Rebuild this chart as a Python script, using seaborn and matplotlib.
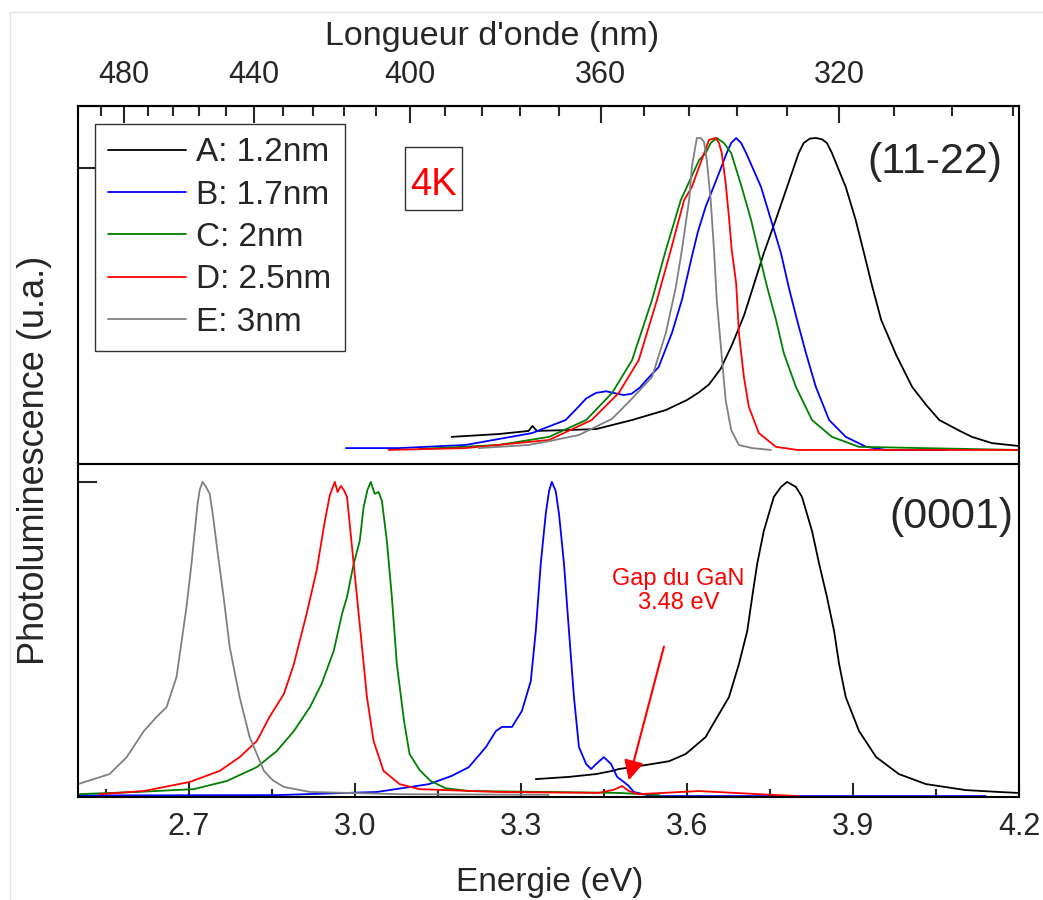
import numpy as np
import pandas as pd
import matplotlib
matplotlib.use("Agg")
import matplotlib.pyplot as plt
from matplotlib.lines import Line2D
from matplotlib.patches import Rectangle
from matplotlib.ticker import FixedLocator
import seaborn as sns

# ---------------------------------------------------------------- data
samples = ["A: 1.2nm", "B: 1.7nm", "C: 2nm", "D: 2.5nm", "E: 3nm"]
colors = ["#000000", "#0000ff", "#008000", "#ff0000", "#808080"]

# (11-22) semipolar wells: photon energy (eV) / normalised PL intensity
semi_a_e = [3.175, 3.26, 3.314, 3.321, 3.329, 3.387, 3.436, 3.501, 3.562, 3.600,
            3.622, 3.640, 3.661, 3.681, 3.703, 3.721, 3.739, 3.761, 3.781, 3.802,
            3.811, 3.822, 3.833, 3.844, 3.853, 3.862, 3.887, 3.905, 3.920, 3.934,
            3.951, 3.978, 4.007, 4.032, 4.056, 4.092, 4.115, 4.151, 4.198]
semi_a_i = [0.042, 0.051, 0.061, 0.077, 0.061, 0.064, 0.067, 0.096, 0.128, 0.16,
            0.185, 0.21, 0.26, 0.335, 0.43, 0.53, 0.631, 0.74, 0.843, 0.952,
            0.984, 0.998, 1.0, 0.996, 0.984, 0.952, 0.843, 0.737, 0.631, 0.53,
            0.417, 0.305, 0.202, 0.145, 0.096, 0.062, 0.042, 0.022, 0.013]

semi_b_e = [2.984, 3.08, 3.2, 3.32, 3.381, 3.405, 3.418, 3.436, 3.454, 3.470,
            3.486, 3.500, 3.515, 3.530, 3.549, 3.573, 3.591, 3.609, 3.620, 3.634,
            3.652, 3.672, 3.680, 3.689, 3.698, 3.707, 3.734, 3.752, 3.770, 3.784,
            3.799, 3.815, 3.833, 3.857, 3.887, 3.924, 3.96, 4.07]
semi_b_i = [0.006, 0.006, 0.016, 0.054, 0.096, 0.14, 0.165, 0.183, 0.188, 0.182,
            0.176, 0.18, 0.2, 0.23, 0.266, 0.375, 0.481, 0.62, 0.70, 0.78,
            0.86, 0.952, 0.984, 1.0, 0.984, 0.952, 0.843, 0.737, 0.631, 0.522,
            0.417, 0.311, 0.202, 0.096, 0.042, 0.01, 0.0, 0.0]

semi_c_e = [3.116, 3.26, 3.351, 3.418, 3.465, 3.501, 3.537, 3.562, 3.589, 3.622,
            3.634, 3.643, 3.654, 3.667, 3.680, 3.699, 3.716, 3.730, 3.745, 3.761,
            3.775, 3.797, 3.826, 3.862, 3.911, 4.198]
semi_c_i = [0.003, 0.016, 0.042, 0.096, 0.183, 0.288, 0.481, 0.641, 0.801, 0.929,
            0.952, 0.984, 1.0, 0.984, 0.952, 0.843, 0.737, 0.631, 0.522, 0.417,
            0.311, 0.202, 0.096, 0.042, 0.01, 0.0]

semi_d_e = [3.061, 3.2, 3.351, 3.428, 3.477, 3.513, 3.546, 3.571, 3.595, 3.609,
            3.622, 3.640, 3.652, 3.658, 3.663, 3.670, 3.676, 3.681, 3.689, 3.694,
            3.703, 3.712, 3.730, 3.761, 3.80, 4.198]
semi_d_i = [0.0, 0.006, 0.032, 0.096, 0.183, 0.288, 0.481, 0.641, 0.801, 0.843,
            0.907, 0.994, 1.0, 0.984, 0.952, 0.856, 0.747, 0.641, 0.535, 0.375,
            0.234, 0.138, 0.054, 0.01, 0.0, 0.0]

semi_e_e = [3.224, 3.314, 3.356, 3.405, 3.465, 3.501, 3.537, 3.562, 3.580, 3.591,
            3.604, 3.609, 3.618, 3.625, 3.631, 3.636, 3.643, 3.649, 3.654, 3.662,
            3.670, 3.680, 3.694, 3.718, 3.752]
semi_e_i = [0.006, 0.016, 0.03, 0.048, 0.1, 0.165, 0.234, 0.375, 0.522, 0.641,
            0.801, 0.907, 1.0, 1.0, 0.987, 0.929, 0.801, 0.641, 0.481, 0.32,
            0.16, 0.064, 0.016, 0.006, 0.0]

# (0001) polar wells
polar_a_e = [3.327, 3.387, 3.436, 3.465, 3.477, 3.501, 3.537, 3.568, 3.598, 3.634,
             3.640, 3.658, 3.676, 3.694, 3.709, 3.718, 3.727, 3.739, 3.757, 3.770,
             3.781, 3.797, 3.808, 3.826, 3.839, 3.853, 3.866, 3.875, 3.887, 3.911,
             3.942, 3.983, 4.032, 4.104, 4.164, 4.198]
polar_a_i = [0.054, 0.061, 0.07, 0.08, 0.086, 0.092, 0.102, 0.111, 0.134, 0.188,
             0.207, 0.261, 0.315, 0.42, 0.525, 0.634, 0.739, 0.844, 0.952, 0.984,
             1.0, 0.984, 0.952, 0.844, 0.739, 0.634, 0.525, 0.42, 0.315, 0.207,
             0.124, 0.07, 0.038, 0.019, 0.013, 0.01]

polar_b_e = [2.5, 2.859, 3.04, 3.134, 3.175, 3.206, 3.237, 3.255, 3.266, 3.284,
             3.302, 3.318, 3.327, 3.336, 3.345, 3.351, 3.356, 3.363, 3.369, 3.378,
             3.387, 3.396, 3.405, 3.418, 3.427, 3.436, 3.45, 3.463, 3.474, 3.486,
             3.495, 3.504, 3.537, 4.14]
polar_b_i = [0.002, 0.003, 0.013, 0.038, 0.064, 0.092, 0.156, 0.207, 0.22, 0.22,
             0.271, 0.366, 0.525, 0.739, 0.898, 0.971, 1.0, 0.971, 0.898, 0.739,
             0.525, 0.315, 0.156, 0.102, 0.086, 0.102, 0.124, 0.102, 0.061, 0.045,
             0.032, 0.013, 0.0, 0.0]

polar_c_e = [2.5, 2.606, 2.709, 2.769, 2.823, 2.859, 2.890, 2.919, 2.940, 2.962,
             2.977, 2.986, 2.998, 3.009, 3.016, 3.023, 3.029, 3.036, 3.043, 3.049,
             3.058, 3.067, 3.076, 3.089, 3.099, 3.117, 3.137, 3.164, 3.206, 3.35,
             3.477, 3.55]
polar_c_i = [0.006, 0.013, 0.022, 0.048, 0.092, 0.143, 0.207, 0.283, 0.357, 0.462,
             0.58, 0.634, 0.739, 0.812, 0.92, 0.975, 1.0, 0.962, 0.968, 0.94,
             0.812, 0.634, 0.42, 0.239, 0.134, 0.083, 0.048, 0.025, 0.016, 0.013,
             0.01, 0.003]

polar_d_e = [2.539, 2.619, 2.702, 2.756, 2.792, 2.823, 2.846, 2.872, 2.890, 2.913,
             2.931, 2.946, 2.955, 2.964, 2.969, 2.975, 2.980, 2.986, 2.995, 3.004,
             3.013, 3.022, 3.034, 3.052, 3.081, 3.117, 3.26, 3.44, 3.468, 3.483,
             3.495, 3.513, 3.622, 3.73, 3.80]
polar_d_i = [0.006, 0.016, 0.045, 0.08, 0.124, 0.175, 0.252, 0.325, 0.42, 0.58,
             0.717, 0.876, 0.958, 1.0, 0.968, 0.987, 0.975, 0.952, 0.793, 0.634,
             0.475, 0.315, 0.175, 0.08, 0.038, 0.022, 0.013, 0.01, 0.02, 0.032,
             0.016, 0.006, 0.016, 0.006, 0.0]

polar_e_e = [2.5, 2.557, 2.588, 2.619, 2.642, 2.660, 2.678, 2.696, 2.705, 2.711,
             2.716, 2.720, 2.725, 2.731, 2.738, 2.744, 2.751, 2.763, 2.774, 2.792,
             2.810, 2.836, 2.852, 2.872, 2.919, 3.08, 3.35]
polar_e_i = [0.038, 0.07, 0.124, 0.207, 0.252, 0.283, 0.379, 0.602, 0.739, 0.844,
             0.93, 0.975, 1.0, 0.985, 0.962, 0.89, 0.793, 0.634, 0.475, 0.315,
             0.188, 0.08, 0.05, 0.029, 0.013, 0.006, 0.004]

gap_gan_ev = 3.48
energy_ticks = [2.7, 3.0, 3.3, 3.6, 3.9, 4.2]
energy_minor = [2.55, 2.85, 3.15, 3.45, 3.75, 4.05]
wavelength_ticks = [480, 440, 400, 360, 320]
wavelength_minor = [296, 304, 312, 328, 336, 344, 352, 368, 376, 384, 392,
                    408, 416, 424, 432, 448, 456, 464, 472, 488, 496]


def long_frame(energies, intensities):
    parts = []
    for name, e, i in zip(samples, energies, intensities):
        parts.append(pd.DataFrame({"energy": e, "intensity": i, "sample": name}))
    return pd.concat(parts, ignore_index=True)


semi_df = long_frame([semi_a_e, semi_b_e, semi_c_e, semi_d_e, semi_e_e],
                     [semi_a_i, semi_b_i, semi_c_i, semi_d_i, semi_e_i])
polar_df = long_frame([polar_a_e, polar_b_e, polar_c_e, polar_d_e, polar_e_e],
                      [polar_a_i, polar_b_i, polar_c_i, polar_d_i, polar_e_i])

# ---------------------------------------------------------------- style
sns.set_theme(style="ticks")
plt.rcParams["font.family"] = ["Liberation Sans", "DejaVu Sans"]
plt.rcParams["axes.linewidth"] = 1.5
plt.rcParams["axes.edgecolor"] = "black"

W, H = 1043, 900
fig = plt.figure(figsize=(W / 100, H / 100), dpi=100)
x0, x1 = 78 / W, 1019 / W
ax_top = fig.add_axes([x0, 1 - 464 / H, x1 - x0, 358 / H])
ax_bot = fig.add_axes([x0, 1 - 797 / H, x1 - x0, 333 / H])

palette = dict(zip(samples, colors))
LW = 1.3
for ax, df in ((ax_top, semi_df), (ax_bot, polar_df)):
    sns.lineplot(data=df, x="energy", y="intensity", hue="sample", palette=palette,
                 estimator=None, sort=False, legend=False, lw=LW, ax=ax)
    ax.set_xlim(2.5, 4.2)
    ax.set_xlabel("")
    ax.set_ylabel("")
    for s in ax.spines.values():
        s.set_linewidth(1.5)
        s.set_color("black")

ax_top.set_ylim(-0.045, 1.1026)
ax_bot.set_ylim(-0.003, 1.057)

# y: a single unlabelled reference tick per panel
ax_top.set_yticks([0.904])
ax_bot.set_yticks([1.0])
for ax in (ax_top, ax_bot):
    ax.tick_params(axis="y", which="both", direction="in", length=14, width=1.5,
                   left=True, right=False, labelleft=False)

# energy axis (bottom)
ax_bot.set_xticks(energy_ticks)
ax_bot.set_xticklabels([f"{v:.1f}" for v in energy_ticks])
ax_bot.xaxis.set_minor_locator(FixedLocator(energy_minor))
ax_bot.tick_params(axis="x", which="major", direction="in", length=10, width=1.5,
                   labelsize=22, pad=10.5, top=False, bottom=True)
ax_bot.tick_params(axis="x", which="minor", direction="in", length=6, width=1.5,
                   top=False, bottom=True)
ax_top.tick_params(axis="x", which="both", bottom=False, top=False,
                   labelbottom=False, labeltop=False)

# wavelength axis (top)
ev_nm = lambda v: 1240.0 / np.where(v == 0, 1e-9, v)
sec = ax_top.secondary_xaxis("top", functions=(ev_nm, ev_nm))
sec.set_xticks(wavelength_ticks)
sec.set_xticklabels([str(v) for v in wavelength_ticks])
sec.xaxis.set_minor_locator(FixedLocator(wavelength_minor))
sec.tick_params(axis="x", which="major", direction="in", length=12, width=1.5,
                labelsize=22, pad=11.5)
sec.tick_params(axis="x", which="minor", direction="in", length=7, width=1.5)
sec.spines["top"].set_linewidth(1.5)

# legend
handles = [Line2D([0], [0], color=c, lw=LW) for c in colors]
leg = ax_top.legend(handles, samples, loc="upper left", bbox_to_anchor=(0.018, 0.95),
                    borderaxespad=0, fontsize=24, frameon=True, fancybox=False,
                    edgecolor="#333333", framealpha=1, borderpad=0.4,
                    labelspacing=0.34, handlelength=2.34, handletextpad=0.3)
leg.get_frame().set_linewidth(1.0)

# temperature tag
ax_top.add_patch(Rectangle((0.3475, 0.7095), 0.0606, 0.176, transform=ax_top.transAxes,
                           fc="white", ec="#333333", lw=1.0, zorder=4))
ax_top.text(0.378, 0.7514, "4K", transform=ax_top.transAxes, color="red",
            fontsize=27.5, ha="center", va="baseline", zorder=5)
ax_top.text(0.982, 0.844, "(11-22)", transform=ax_top.transAxes, fontsize=31,
            ha="right", va="center")
ax_bot.text(0.9936, 0.841, "(0001)", transform=ax_bot.transAxes, fontsize=31,
            ha="right", va="center")

ax_bot.annotate("Gap du GaN\n3.48 eV", xy=(gap_gan_ev + 0.015, 0.05),
                xytext=(3.585, 0.653), textcoords="data", color="red", fontsize=17,
                ha="center", va="center", linespacing=1.1,
                arrowprops=dict(arrowstyle="-|>", color="red", lw=1.5,
                                mutation_scale=30, shrinkA=22, shrinkB=0))

fig.text(550 / W, 1 - 882 / H, "Energie (eV)", fontsize=24, ha="center", va="center")
fig.text(492 / W, 1 - 36 / H, "Longueur d'onde (nm)", fontsize=24.5, ha="center",
         va="center")
fig.text(35 / W, 1 - 460 / H, "Photoluminescence (u.a.)", fontsize=26, rotation=90,
         ha="center", va="center")

# faint outer frame
fig.add_artist(Line2D([10 / W, 1.0], [1 - 12 / H, 1 - 12 / H], color="#e4e4e4", lw=1,
                      transform=fig.transFigure))
fig.add_artist(Line2D([10 / W, 10 / W], [0.0, 1 - 12 / H], color="#e4e4e4", lw=1,
                      transform=fig.transFigure))

fig.savefig("out.png", dpi=100, facecolor="white")
